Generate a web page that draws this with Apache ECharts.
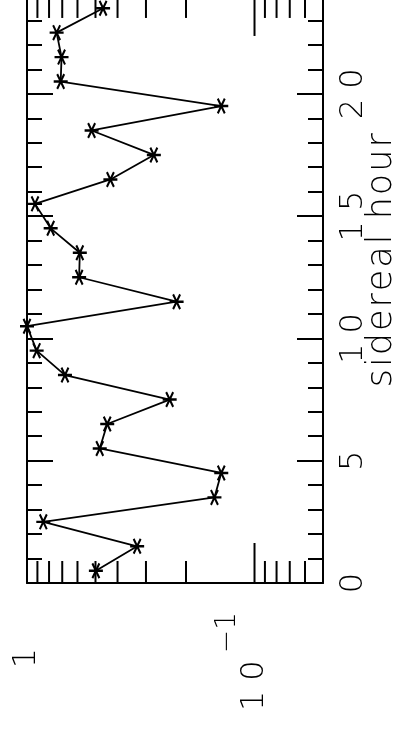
<!DOCTYPE html>
<html>
<head>
<meta charset="utf-8">
<script src="https://cdn.jsdelivr.net/npm/echarts@6/dist/echarts.min.js"></script>
<style>
html, body { margin: 0; padding: 0; background: #fff; }
#chart { width: 396px; height: 733px; }
</style>
</head>
<body>
<div id="chart"></div>
<script>
// sidereal hour of each point (bin centres)
var hours = [0.5, 1.5, 2.5, 3.5, 4.5, 5.5, 6.5, 7.5, 8.5, 9.5, 10.5, 11.5,
             12.5, 13.5, 14.5, 15.5, 16.5, 17.5, 18.5, 19.5, 20.5, 21.5, 22.5, 23.5];
// values
var values = [0.498, 0.328, 0.848, 0.150, 0.140, 0.479, 0.444, 0.236, 0.681, 0.907, 1.0, 0.220,
              0.590, 0.586, 0.787, 0.922, 0.430, 0.277, 0.520, 0.140, 0.711, 0.705, 0.741, 0.463];
// log axis tick marks
var logTicks = [0.06, 0.07, 0.08, 0.09, 0.1, 0.2, 0.3, 0.4, 0.5, 0.6, 0.7, 0.8, 0.9];
var logMajor = [0.1];
var hourLabels = [0, 5, 10, 15, 20];
var hourMin = 0, hourTop = 24;
var hourTitle = 'sidereal hour';

var font = 'DejaVu Sans';
var star = 'path://M0 6H14V8H0Z' +
    'M4.37 0.44L11.37 12.56L9.63 13.56L2.63 1.44Z' +
    'M11.37 1.44L4.37 13.56L2.63 12.56L9.63 0.44Z';

// wide plotter-style spacing: one rich token per character
var spaced = function (s, key) {
    return String(s).split('').map(function (c) { return '{' + (key || 'd') + '|' + c + '}'; }).join('');
};
var digitStyle = { fontSize: 32, fontFamily: font, fontWeight: 200, color: '#000', padding: [0, 5, 0, 5] };
var titleStyle = { fontSize: 35, fontFamily: font, fontWeight: 200, color: '#000', padding: [0, 1, 0, 1] };

var myChart = echarts.init(document.getElementById('chart'));

var hourAxis = function (pos, withLabels) {
    return {
        type: 'value',
        position: pos,
        min: 0,
        max: 25,
        interval: 5,
        axisLine: { show: true, lineStyle: { color: '#000', width: 2 } },
        axisTick: { show: true, inside: true, length: 26, lineStyle: { color: '#000', width: 2 } },
        minorTick: { show: true, splitNumber: 5, length: 15, lineStyle: { color: '#000', width: 2 } },
        splitLine: { show: false },
        minorSplitLine: { show: false },
        axisLabel: {
            show: withLabels,
            rotate: 90,
            margin: 15,
            color: '#000',
            showMaxLabel: false,
            formatter: function (v) {
                return hourLabels.indexOf(v) >= 0 ? spaced(v) : '';
            },
            rich: { d: digitStyle }
        },
        name: withLabels ? spaced(hourTitle, 't') : '',
        nameLocation: 'middle',
        nameRotate: 90,
        nameGap: 41,
        nameMoveOverlap: false,
        nameTextStyle: {
            fontSize: 35,
            fontFamily: font,
            fontWeight: 200,
            color: '#000',
            padding: [0, 0, 0, 34],
            rich: { t: titleStyle }
        }
    };
};

option = {
    animation: false,
    backgroundColor: '#fff',
    grid: {
        left: 27,
        right: 73,
        top: -28.5,
        bottom: 150,
        outerBoundsMode: 'none'
    },
    xAxis: {
        type: 'log',
        logBase: 10,
        min: 0.05,
        max: 1,
        inverse: true,
        position: 'bottom',
        axisLine: { show: true, lineStyle: { color: '#000', width: 2 } },
        axisTick: { show: false },
        minorTick: { show: false },
        splitLine: { show: false },
        minorSplitLine: { show: false },
        axisLabel: {
            rotate: 90,
            margin: 80,
            align: 'center',
            verticalAlign: 'middle',
            showMinLabel: false,
            color: '#000',
            formatter: function (v) {
                if (Math.abs(v - 1) < 1e-9) return '{one|1}';
                if (Math.abs(v - 0.1) < 1e-9) return spaced('10') + '{s|\u22121}';
                return '';
            },
            rich: {
                one: { fontSize: 32, fontFamily: font, fontWeight: 200, color: '#000', padding: [0, 0, 0, 10] },
                d: digitStyle,
                s: { fontSize: 28, fontFamily: font, fontWeight: 200, color: '#000', padding: [0, 2, 54, 2] }
            }
        }
    },
    yAxis: [hourAxis('right', true), hourAxis('left', false)],
    series: [
        {
            type: 'custom',
            coordinateSystem: 'cartesian2d',
            silent: true,
            z: 3,
            data: logTicks.map(function (v) { return [v, hourMin]; }),
            renderItem: function (params, api) {
                var v = api.value(0);
                var b = api.coord([v, hourMin]);
                var t = api.coord([v, hourTop]);
                var len = logMajor.indexOf(v) >= 0 ? 40 : 22;
                var st = { stroke: '#000', lineWidth: 2 };
                return {
                    type: 'group',
                    children: [
                        { type: 'line', shape: { x1: b[0], y1: b[1], x2: b[0], y2: b[1] - len }, style: st },
                        { type: 'line', shape: { x1: t[0], y1: t[1], x2: t[0], y2: t[1] + len }, style: st }
                    ]
                };
            }
        },
        {
            type: 'line',
            data: hours.map(function (h, i) { return [values[i], h]; }),
            symbol: star,
            symbolSize: [14, 16],
            showAllSymbol: true,
            itemStyle: { color: '#000' },
            lineStyle: { color: '#000', width: 1.8 },
            z: 4
        }
    ]
};
myChart.setOption(option);
</script>
</body>
</html>
